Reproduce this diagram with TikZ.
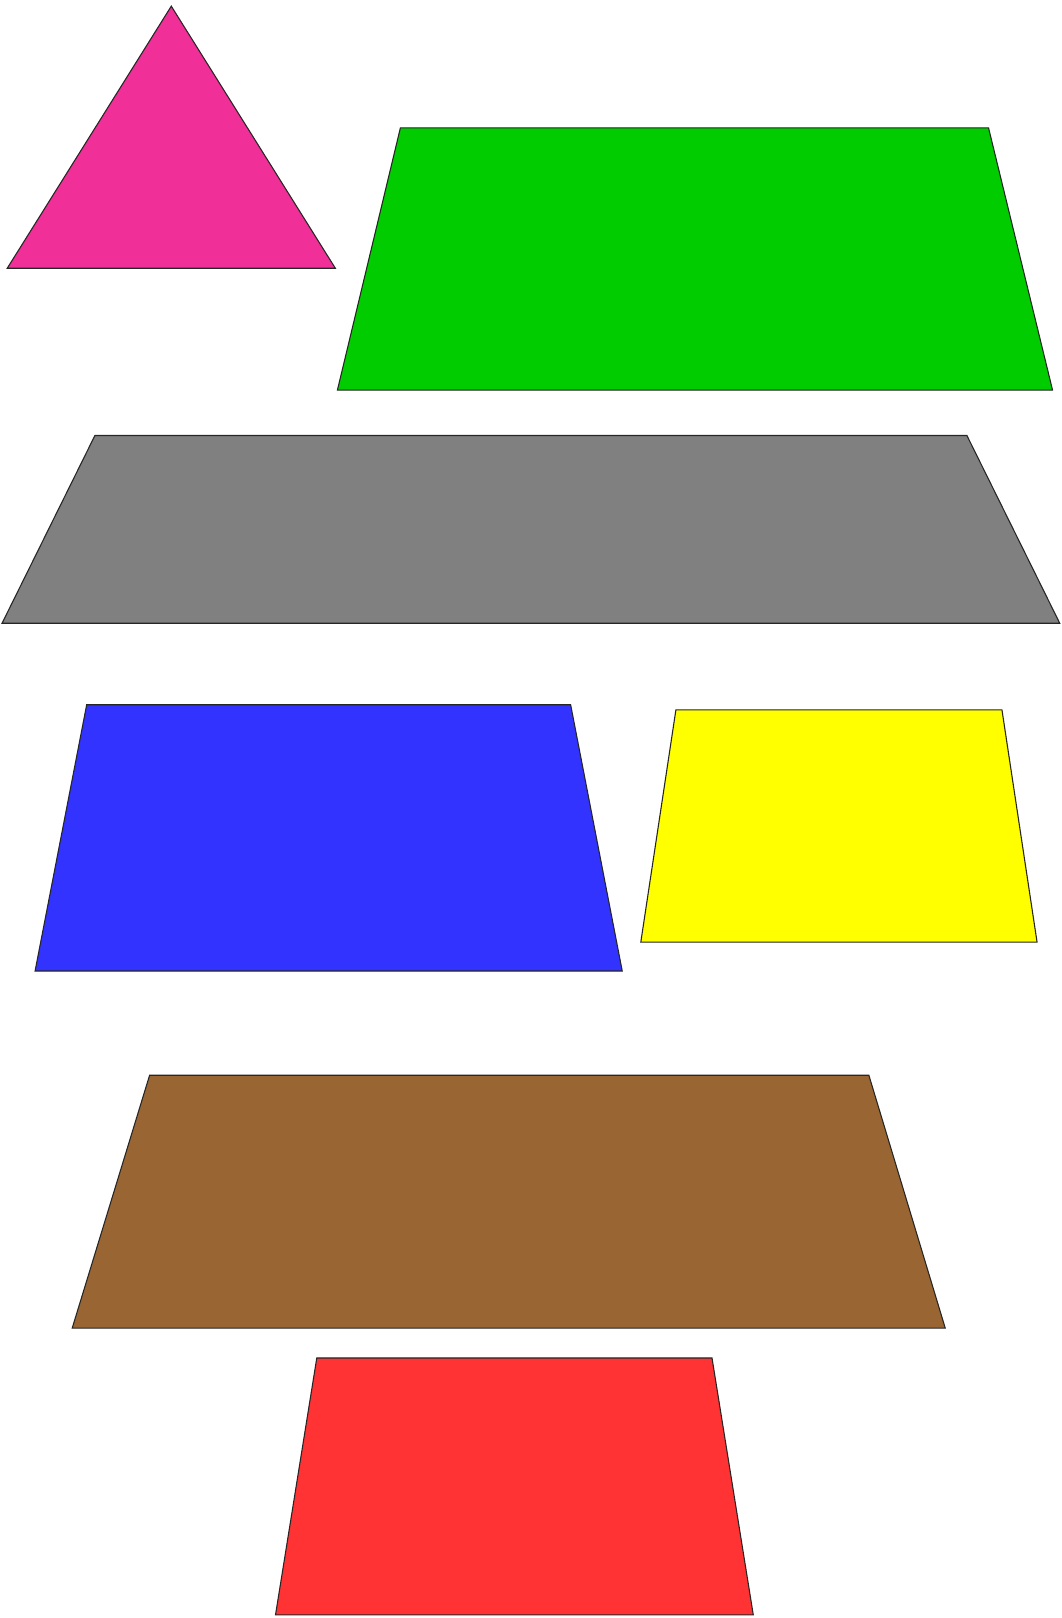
\documentclass[tikz,border=0pt]{standalone}
\usepackage{tikz}
\usepackage{xcolor}
\definecolor{pinkcolor}{RGB}{240,48,152}
\definecolor{greencolor}{RGB}{0,204,0}
\definecolor{graycolor}{RGB}{128,128,128}
\definecolor{bluecolor}{RGB}{51,51,255}
\definecolor{yellowcolor}{RGB}{255,255,0}
\definecolor{browncolor}{RGB}{153,102,51}
\definecolor{redcolor}{RGB}{255,51,51}

\begin{document}
\begin{tikzpicture}[
    x=0.02cm, y=-0.02cm,
    piece/.style={draw=black!85, line width=0.6pt, line join=miter}
]
\useasboundingbox (0,0) rectangle (1029,1568);
\fill[white] (0,0) rectangle (1029,1568);

% triangle
\draw[piece, fill=pinkcolor] (166,6) -- (325,260) -- (7,260) -- cycle;
% trapezoids
\draw[piece, fill=greencolor] (388,124) -- (958,124) -- (1020,378) -- (327,378) -- cycle;
\draw[piece, fill=graycolor] (92,422) -- (937,422) -- (1027,604) -- (2,604) -- cycle;
\draw[piece, fill=bluecolor] (84,683) -- (553,683) -- (603,941) -- (34,941) -- cycle;
\draw[piece, fill=yellowcolor] (655,688) -- (971,688) -- (1005,913) -- (621,913) -- cycle;
\draw[piece, fill=browncolor] (145,1042) -- (842,1042) -- (916,1287) -- (70,1287) -- cycle;
\draw[piece, fill=redcolor] (307,1316) -- (690,1316) -- (730,1565) -- (267,1565) -- cycle;
\end{tikzpicture}
\end{document}
